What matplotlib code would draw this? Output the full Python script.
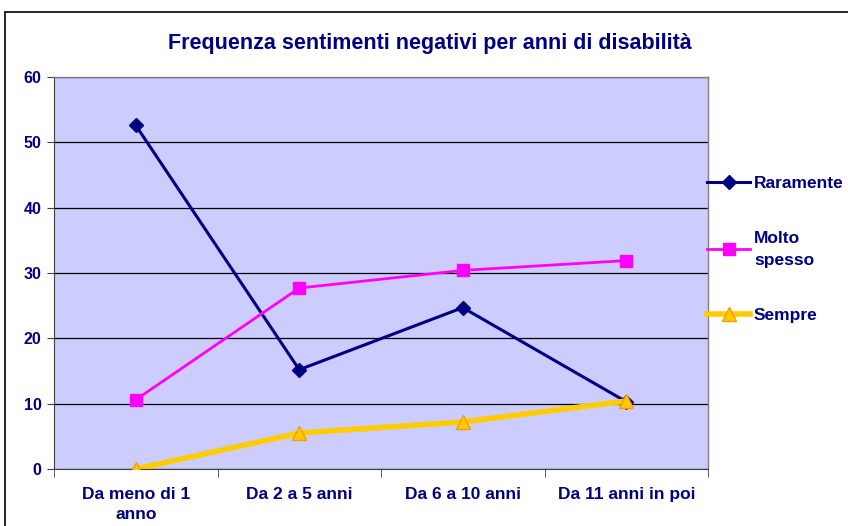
import matplotlib.pyplot as plt
from matplotlib.patches import Rectangle

categories = ["Da meno di 1\nanno", "Da 2 a 5 anni", "Da 6 a 10 anni", "Da 11 anni in poi"]
raramente = [52.6, 15.2, 24.7, 10.3]
molto_spesso = [10.6, 27.7, 30.4, 31.9]
sempre = [0.0, 5.5, 7.2, 10.4]

navy = "#000080"
plt.rcParams['font.family'] = ['Liberation Sans', 'DejaVu Sans']

fig = plt.figure(figsize=(8.48, 5.26), dpi=100)
W, H = 848, 526
ax = fig.add_axes([54 / W, 1 - 469 / H, (708 - 54) / W, (469 - 77) / H])
ax.set_facecolor("#CCCCFF")

# outer chart frame
fig.patches.append(Rectangle((5 / W, -0.1), 1.1, 1 - 12 / H + 0.1, transform=fig.transFigure,
                             fill=False, edgecolor="black", linewidth=1.2))

x = list(range(len(categories)))
ax.plot(x, raramente, color=navy, lw=2.2, marker="D", ms=7, mfc=navy, mec=navy,
        label="Raramente", zorder=3)
ax.plot(x, molto_spesso, color="#FF00FF", lw=2, marker="s", ms=8.5, mfc="#FF00FF", mec="#FF00FF",
        label="Molto\nspesso", zorder=3)
ax.plot(x, sempre, color="#FFCC00", lw=4, marker="^", ms=10, mfc="#FFCC00", mec="#FF9900",
        label="Sempre", zorder=3)

ax.set_xlim(-0.5, 3.5)
ax.set_ylim(0, 60)
ax.set_yticks(range(0, 61, 10))
ax.yaxis.grid(True, color="black", linewidth=0.9)
ax.set_axisbelow(True)
ax.set_xticks(x)
ax.set_xticklabels(categories, fontsize=12.5, fontweight="bold", color=navy, linespacing=1.45)
ax.tick_params(axis="x", length=0, pad=13)
ax.set_xticks([-0.5, 0.5, 1.5, 2.5, 3.5], minor=True)
ax.tick_params(axis="x", which="minor", length=6, color="#404040", direction="out")
ax.tick_params(axis="y", length=5, color="#404040", labelsize=11.5, labelcolor=navy, pad=4)
for lbl in ax.get_yticklabels():
    lbl.set_fontweight("bold")

for side in ["top", "right"]:
    ax.spines[side].set_color("#808080")
    ax.spines[side].set_linewidth(1)
ax.spines["left"].set_color("#404040")
ax.spines["bottom"].set_color("#404040")

fig.text(430 / W, 1 - 44 / H, "Frequenza sentimenti negativi per anni di disabilità",
         ha="center", va="center", fontsize=15.5, fontweight="bold", color=navy)

leg = ax.legend(loc="upper left", bbox_to_anchor=(707 / W, 1 - 176 / H),
                bbox_transform=fig.transFigure, frameon=False, handlelength=2.5,
                handletextpad=0.2, borderpad=0, borderaxespad=0, labelspacing=2.3,
                prop={"weight": "bold", "size": 12.5})
for t in leg.get_texts():
    t.set_color(navy)
    t.set_linespacing(1.55)

fig.savefig("out.png", dpi=100)
